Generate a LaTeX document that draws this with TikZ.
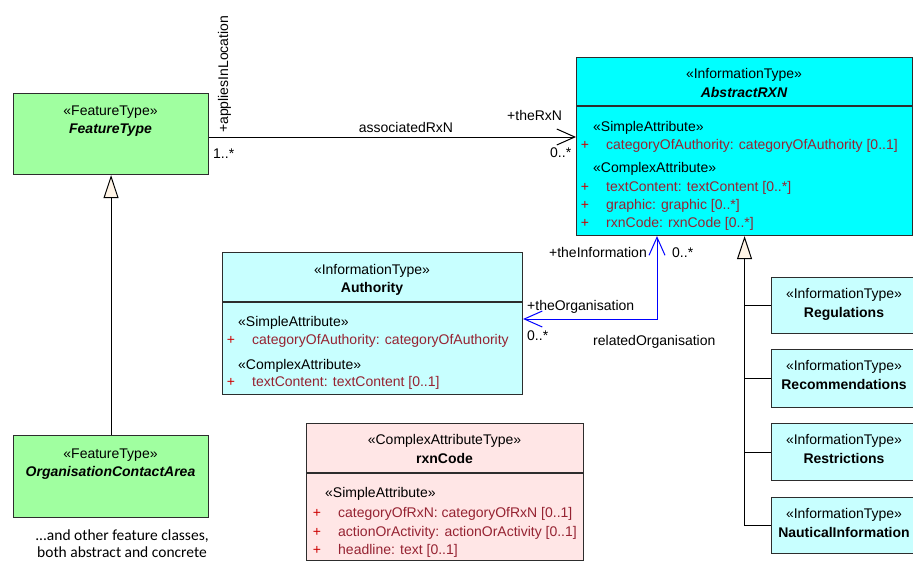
\documentclass[tikz,border=0pt]{standalone}
\usepackage{fontspec}
\setmainfont{Liberation Sans}
\newfontfamily\notefont{Carlito}
\usetikzlibrary{arrows.meta}
\definecolor{featgreen}{RGB}{160,255,160}
\definecolor{infocyan}{RGB}{0,255,255}
\definecolor{infolight}{RGB}{200,255,255}
\definecolor{cplxpink}{RGB}{255,230,230}
\definecolor{attrred}{RGB}{150,35,50}
\definecolor{plusred}{RGB}{205,0,0}
\definecolor{genfill}{RGB}{255,244,230}
\definecolor{boxline}{RGB}{45,45,45}

\begin{document}
\begin{tikzpicture}[x=1pt, y=-1pt, >={Straight Barb[length=18pt,width=16pt]},
    every node/.style={inner sep=0pt, font=\fontsize{14}{17}\selectfont},
    umlbox/.style={draw=boxline, line width=1.1pt, rectangle, anchor=north west},
    featbox/.style={umlbox, fill=featgreen},
    infobox/.style={umlbox, fill=infolight},
    cplxbox/.style={umlbox, fill=cplxpink},
    stereo/.style={anchor=base},
    clsname/.style={anchor=base, font=\fontsize{14}{17}\selectfont\bfseries},
    absname/.style={anchor=base, font=\fontsize{14}{17}\selectfont\bfseries\itshape},
    compart/.style={anchor=base west},
    attr/.style={anchor=base west, text=attrred},
    plus/.style={anchor=base, text=plusred},
    lbl/.style={anchor=base west},
    sepline/.style={draw=boxline, line width=1.1pt},
    gen/.style={line width=1pt, -{Triangle[length=23pt,width=15pt,fill=genfill]}}]
    \useasboundingbox (0,0) rectangle (913,562);

    %draw boxes by coordinates
    \node[featbox, minimum width=195pt, minimum height=81pt] (ft) at (13,93) {};
    \node[featbox, minimum width=195pt, minimum height=82pt] (oca) at (13,435) {};
    \node[infobox, fill=infocyan, minimum width=336pt, minimum height=178pt] (arxn) at (576,57) {};
    \node[infobox, minimum width=300pt, minimum height=142pt] (auth) at (222,252) {};
    \node[cplxbox, minimum width=277pt, minimum height=137pt] (rxn) at (306,423) {};
    \node[infobox, minimum width=146pt, minimum height=56pt] (reg) at (771,277) {};
    \node[infobox, minimum width=146pt, minimum height=58pt] (rec) at (771,349) {};
    \node[infobox, minimum width=146pt, minimum height=57pt] (res) at (771,423) {};
    \node[infobox, minimum width=146pt, minimum height=56pt] (naut) at (771,497) {};

    % compartment lines
    \draw[sepline] (arxn.west |- 0,106) -- (arxn.east |- 0,106);
    \draw[sepline] (auth.west |- 0,302) -- (auth.east |- 0,302);
    \draw[sepline] (rxn.west |- 0,473) -- (rxn.east |- 0,473);

    % feature types
    \node[stereo] (ftst) at (110.5,115) {«FeatureType»};
    \node[absname] (ftnm) at (110.5,133) {FeatureType};
    \node[stereo] (ocast) at (110.5,458) {«FeatureType»};
    \node[absname] (ocanm) at (110.5,476) {OrganisationContactArea};
    \node[anchor=base, font=\notefont\fontsize{15.5}{18}\selectfont] (note1) at (122,540) {...and other feature classes,};
    \node[anchor=base, font=\notefont\fontsize{15.5}{18}\selectfont] (note2) at (122,557) {both abstract and concrete};

    % AbstractRXN
    \node[stereo] (arxnst) at (744,78) {«InformationType»};
    \node[absname] (arxnnm) at (744,97) {AbstractRXN};
    \node[compart] (arsa) at (593,131) {«SimpleAttribute»};
    \node[plus] (arp1) at (585,149) {+};
    \node[attr] (ara1) at (606,149) {categoryOfAuthority: categoryOfAuthority [0..1]};
    \node[compart] (arca) at (593,172) {«ComplexAttribute»};
    \node[plus] (arp2) at (585,191) {+};
    \node[attr] (ara2) at (606,191) {textContent: textContent [0..*]};
    \node[plus] (arp3) at (585,209) {+};
    \node[attr] (ara3) at (606,209) {graphic: graphic [0..*]};
    \node[plus] (arp4) at (585,227) {+};
    \node[attr] (ara4) at (606,227) {rxnCode: rxnCode [0..*]};

    % Authority
    \node[stereo] (authst) at (372,274) {«InformationType»};
    \node[clsname] (authnm) at (372,292) {Authority};
    \node[compart] (ausa) at (238,326) {«SimpleAttribute»};
    \node[plus] (aup1) at (231,344) {+};
    \node[attr] (aua1) at (252,344) {categoryOfAuthority: categoryOfAuthority};
    \node[compart] (auca) at (238,369) {«ComplexAttribute»};
    \node[plus] (aup2) at (231,386) {+};
    \node[attr] (aua2) at (252,386) {textContent: textContent [0..1]};

    % rxnCode
    \node[stereo] (rxnst) at (444.5,444) {«ComplexAttributeType»};
    \node[clsname] (rxnnm) at (444.5,463) {rxnCode};
    \node[compart] (rxsa) at (325,497) {«SimpleAttribute»};
    \node[plus] (rxp1) at (317,517) {+};
    \node[attr] (rxa1) at (338,517) {categoryOfRxN: categoryOfRxN [0..1]};
    \node[plus] (rxp2) at (317,536) {+};
    \node[attr] (rxa2) at (338,536) {actionOrActivity: actionOrActivity [0..1]};
    \node[plus] (rxp3) at (317,554) {+};
    \node[attr] (rxa3) at (338,554) {headline: text [0..1]};

    % specialisations of AbstractRXN
    \node[stereo] (regst) at (844,298) {«InformationType»};
    \node[clsname] (regnm) at (844,317) {Regulations};
    \node[stereo] (recst) at (844,370) {«InformationType»};
    \node[clsname] (recnm) at (844,389) {Recommendations};
    \node[stereo] (resst) at (844,444) {«InformationType»};
    \node[clsname] (resnm) at (844,463) {Restrictions};
    \node[stereo] (nautst) at (844,518) {«InformationType»};
    \node[clsname] (nautnm) at (844,537) {NauticalInformation};

    % Draw edges (links)
    \draw[line width=1pt, ->] (ft.east |- 0,137) -- (arxn.west |- 0,137);
    \node[lbl, rotate=90] (appl) at (228,133) {+appliesInLocation};
    \node[lbl] (ftmul) at (213,158) {1..*};
    \node[anchor=base] (assoc) at (406,132) {associatedRxN};
    \node[lbl] (thernx) at (507,120) {+theRxN};
    \node[lbl] (rxnmul) at (550,157) {0..*};

    \draw[line width=1pt, blue, <->] (arxn.south -| 657,0) |- (auth.east |- 0,319);
    \node[anchor=base east] (theinfo) at (647,257) {+theInformation};
    \node[lbl] (infomul) at (672,257) {0..*};
    \node[lbl] (theorg) at (527,310) {+theOrganisation};
    \node[lbl] (orgmul) at (527,340) {0..*};
    \node[lbl] (relorg) at (593,345) {relatedOrganisation};

    \draw[gen] (oca.north) -- (ft.south);
    \draw[gen] (naut.west) -| (arxn.south);
    \draw[line width=1pt] (reg.west) -- (reg.west -| arxn.south);
    \draw[line width=1pt] (rec.west) -- (rec.west -| arxn.south);
    \draw[line width=1pt] (res.west) -- (res.west -| arxn.south);
\end{tikzpicture}
\end{document}
